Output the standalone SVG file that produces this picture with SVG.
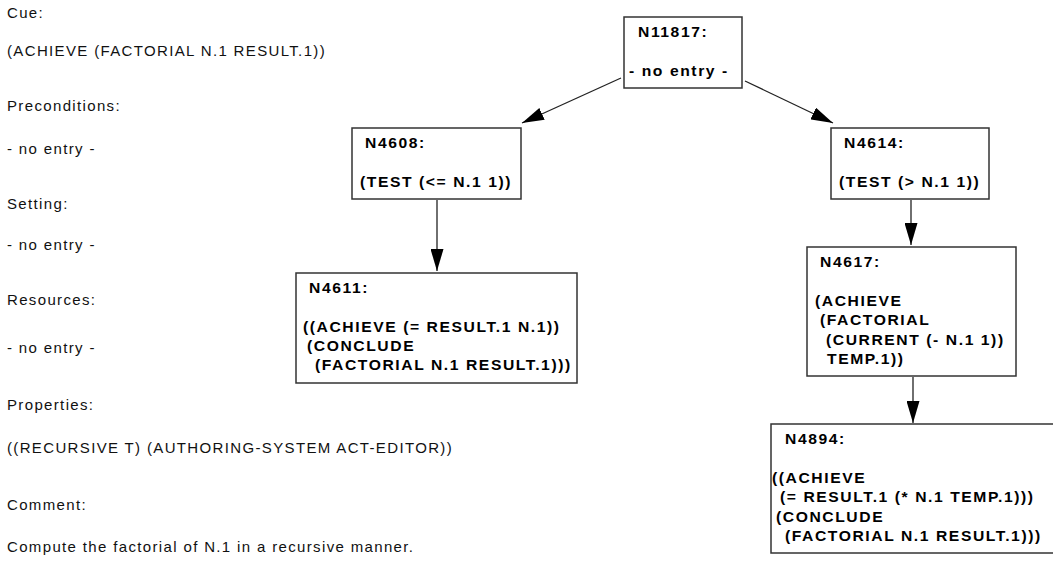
<svg xmlns="http://www.w3.org/2000/svg" width="1053" height="561" viewBox="0 0 1053 561">
  <style>
    .lbl { font-family: "Liberation Sans", Arial, sans-serif; font-size: 15px; letter-spacing: 1.35px; fill: #111; }
    .box { fill: #fff; stroke: #333; stroke-width: 1.5; }
    .nt { font-family: "Liberation Sans", Arial, sans-serif; font-size: 14px; font-weight: bold; letter-spacing: 1.4px; fill: #000; }
    .edge { stroke: #222; stroke-width: 1.3; fill: none; marker-end: url(#head); }
  </style>
  <defs>
    <marker id="head" markerUnits="userSpaceOnUse" markerWidth="22" markerHeight="13" refX="22" refY="6.5" orient="auto">
      <path d="M0,0 L22,6.5 L0,13 Z" fill="#000"/>
    </marker>
  </defs>
  <rect width="1053" height="561" fill="#fff"/>

  <!-- plan attributes -->
  <g id="attributes">
    <text class="lbl" x="7" y="18">Cue:</text>
    <text class="lbl" x="7" y="56">(ACHIEVE (FACTORIAL N.1 RESULT.1))</text>
    <text class="lbl" x="7" y="111">Preconditions:</text>
    <text class="lbl" x="7" y="154">- no entry -</text>
    <text class="lbl" x="7" y="209">Setting:</text>
    <text class="lbl" x="7" y="250">- no entry -</text>
    <text class="lbl" x="7" y="305">Resources:</text>
    <text class="lbl" x="7" y="353">- no entry -</text>
    <text class="lbl" x="7" y="410">Properties:</text>
    <text class="lbl" x="7" y="453">((RECURSIVE T) (AUTHORING-SYSTEM ACT-EDITOR))</text>
    <text class="lbl" x="7" y="510">Comment:</text>
    <text class="lbl" x="7" y="552">Compute the factorial of N.1 in a recursive manner.</text>
  </g>

  <!-- connectors -->
  <g id="connectors">
    <line class="edge" x1="621" y1="78" x2="522" y2="123"/>
    <line class="edge" x1="745" y1="81" x2="833" y2="123"/>
    <line class="edge" x1="437" y1="200" x2="437" y2="271"/>
    <line class="edge" x1="911" y1="200" x2="911" y2="245"/>
    <line class="edge" x1="913" y1="377" x2="913" y2="423"/>
  </g>

  <!-- node labels are drawn slightly widened -->
  <g id="N11817">
    <rect class="box" x="624" y="17" width="118" height="71"/>
    <text class="nt" transform="translate(638 37) scale(1.12 1)">N11817:</text>
    <text class="nt" transform="translate(629 76) scale(1.12 1)">- no entry -</text>
  </g>

  <g id="N4608">
    <rect class="box" x="352" y="128" width="169" height="71"/>
    <text class="nt" transform="translate(365 148) scale(1.12 1)">N4608:</text>
    <text class="nt" transform="translate(360 187) scale(1.12 1)">(TEST (&lt;= N.1 1))</text>
  </g>

  <g id="N4614">
    <rect class="box" x="831" y="128" width="158" height="71"/>
    <text class="nt" transform="translate(844 148) scale(1.12 1)">N4614:</text>
    <text class="nt" transform="translate(839 187) scale(1.12 1)">(TEST (&gt; N.1 1))</text>
  </g>

  <g id="N4611">
    <rect class="box" x="296" y="273" width="281" height="110"/>
    <text class="nt" transform="translate(309 293) scale(1.12 1)">N4611:</text>
    <text class="nt" transform="translate(303 332) scale(1.12 1)">((ACHIEVE (= RESULT.1 N.1))</text>
    <text class="nt" transform="translate(307 351) scale(1.12 1)">(CONCLUDE</text>
    <text class="nt" transform="translate(315 370) scale(1.12 1)">(FACTORIAL N.1 RESULT.1)))</text>
  </g>

  <g id="N4617">
    <rect class="box" x="807" y="247" width="209" height="129"/>
    <text class="nt" transform="translate(820 267) scale(1.12 1)">N4617:</text>
    <text class="nt" transform="translate(815 306) scale(1.12 1)">(ACHIEVE</text>
    <text class="nt" transform="translate(820 325) scale(1.12 1)">(FACTORIAL</text>
    <text class="nt" transform="translate(826 345) scale(1.12 1)">(CURRENT (- N.1 1))</text>
    <text class="nt" transform="translate(827 364) scale(1.12 1)">TEMP.1))</text>
  </g>

  <g id="N4894">
    <rect class="box" x="771" y="424" width="290" height="129"/>
    <text class="nt" transform="translate(785 444) scale(1.12 1)">N4894:</text>
    <text class="nt" transform="translate(772 483) scale(1.12 1)">((ACHIEVE</text>
    <text class="nt" transform="translate(780 502) scale(1.12 1)">(= RESULT.1 (* N.1 TEMP.1)))</text>
    <text class="nt" transform="translate(776 522) scale(1.12 1)">(CONCLUDE</text>
    <text class="nt" transform="translate(785 541) scale(1.12 1)">(FACTORIAL N.1 RESULT.1)))</text>
  </g>
</svg>
